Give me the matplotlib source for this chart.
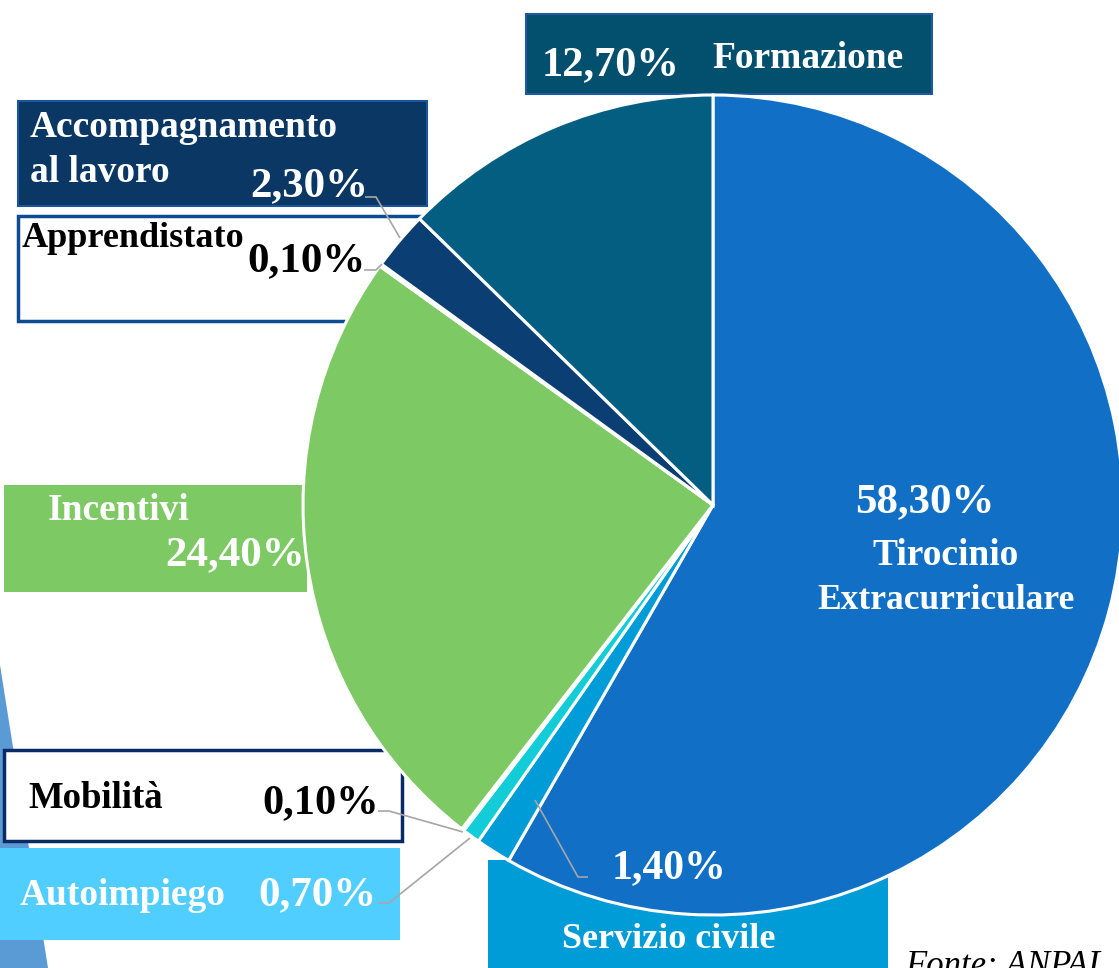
import matplotlib.pyplot as plt
from matplotlib.patches import Rectangle, Polygon

plt.rcParams['font.family'] = ['Liberation Serif', 'DejaVu Serif']

# dati
categorie = ['Tirocinio Extracurriculare', 'Servizio civile', 'Autoimpiego', 'Mobilità',
             'Incentivi', 'Apprendistato', 'Accompagnamento al lavoro', 'Formazione']
valori = [58.3, 1.4, 0.7, 0.1, 24.4, 0.1, 2.3, 12.7]
colori = ['#1170C6', '#009CD8', '#12CDD8', '#FFFFFF', '#7DCA64', '#FFFFFF', '#0B3F73', '#045E82']
perc = [f'{v:.2f}'.replace('.', ',') + '%' for v in valori]

W, H = 1119, 968
fig = plt.figure(figsize=(W / 100, H / 100), dpi=100)
ax = fig.add_axes([0, 0, 1, 1])


def Y(y):
    return H - y


# torta
ax.pie(valori, colors=colori, startangle=90, counterclock=False,
       center=(713, Y(505)), radius=410,
       wedgeprops=dict(edgecolor='white', linewidth=2.2, zorder=2))

# decorazione a sinistra
ax.add_patch(Polygon([(0, Y(665)), (48, Y(968)), (0, Y(968))], closed=True,
                     facecolor='#5B9BD5', edgecolor='none', zorder=0))


def box(x0, y0, x1, y1, fc, ec='none', lw=0):
    ax.add_patch(Rectangle((x0, Y(y1)), x1 - x0, y1 - y0, facecolor=fc,
                           edgecolor=ec, linewidth=lw, zorder=1))


def txt(x, y, s, size, color='white', ha='left', **kw):
    ax.text(x, Y(y), s, fontsize=size, color=color, ha=ha, va='baseline',
            fontweight='bold', zorder=5, **kw)


def leader(pts):
    ax.plot([p[0] for p in pts], [Y(p[1]) for p in pts], color='#A6A6A6',
            lw=1.2, zorder=4, solid_capstyle='butt')


# riquadri delle etichette
box(526, 14, 932, 94, '#034F6E', '#1F5AA0', 1.5)
box(18, 101, 427, 206, '#0B3764', '#1A56A0', 1.5)
box(18, 216, 430, 321, 'white', '#0D4C94', 2.5)
box(4, 485, 307, 592, '#7DCA64')
box(4, 750, 402, 841, 'white', '#0A2A66', 2.5)
box(0, 848, 400, 940, '#50CEFF')
box(488, 860, 888, 990, '#009CD8')

# testi
txt(542, 75, perc[7], 30.5)
txt(712, 68, categorie[7], 27)

txt(30, 137, 'Accompagnamento', 27)
txt(30, 182, 'al lavoro', 27)
txt(250, 196, perc[6], 31)
leader([(365, 197), (376, 197), (400, 238)])

txt(22, 247, categorie[5], 26, color='black')
txt(247, 271, perc[5], 31, color='black')
leader([(364, 270), (376, 270), (382, 264)])

txt(48, 520, categorie[4], 27)
txt(165, 565, perc[4], 31)

txt(28, 808, categorie[3], 26.5, color='black')
txt(262, 813, perc[3], 30.5, color='black')
leader([(378, 811), (389, 811), (463, 832)])

txt(20, 905, categorie[2], 27)
txt(258, 905, perc[2], 31)
leader([(378, 903), (389, 903), (470, 838)])

txt(612, 878, perc[1], 30)
leader([(535, 800), (578, 877), (588, 877)])
txt(669, 948, categorie[1], 26, ha='center')

txt(925, 512, perc[0], 31, ha='center')
txt(946, 565, 'Tirocinio', 27, ha='center')
txt(946, 609, 'Extracurriculare', 25.5, ha='center')

ax.text(905, Y(950), 'Fonte: ANPAL', fontsize=25, style='italic', color='black',
        ha='left', va='top', zorder=5)

ax.set_xlim(0, W)
ax.set_ylim(0, H)
ax.set_aspect('equal')
ax.axis('off')

fig.savefig('out.png', dpi=100)
